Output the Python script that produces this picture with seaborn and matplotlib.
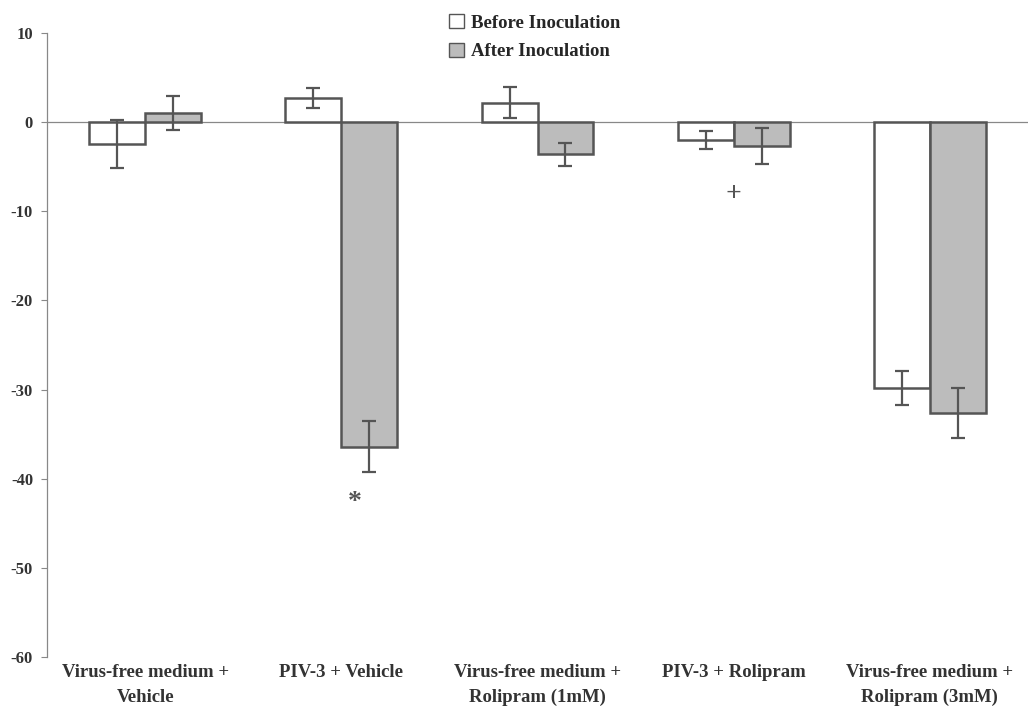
import numpy as np
import pandas as pd
import matplotlib
matplotlib.use('Agg')
import matplotlib.pyplot as plt
import seaborn as sns
from matplotlib.patches import Patch

groups = ['Virus-free medium +\nVehicle', 'PIV-3 + Vehicle', 'Virus-free medium +\nRolipram (1mM)',
          'PIV-3 + Rolipram', 'Virus-free medium +\nRolipram (3mM)']
before = [-2.5, 2.7, 2.2, -2.0, -29.8]
before_err = [2.7, 1.1, 1.7, 1.0, 1.9]
after = [1.0, -36.4, -3.6, -2.7, -32.6]
after_err = [1.9, 2.9, 1.3, 2.0, 2.8]
marks = ['', '*', '', '+', '']

df = pd.DataFrame({
    'group': groups * 2,
    'value': before + after,
    'err': before_err + after_err,
    'when': ['Before Inoculation'] * 5 + ['After Inoculation'] * 5,
})

sns.set_style('white')
plt.rcParams['font.family'] = ['Liberation Serif', 'DejaVu Serif']
plt.rcParams['font.weight'] = 'bold'
plt.rcParams['axes.unicode_minus'] = False

fig = plt.figure(figsize=(10.28, 7.14), dpi=100)
ax = fig.add_axes([47/1028, 1 - 657/714, 1 - 47/1028, (657 - 33)/714])

edge = '#555555'
sns.barplot(data=df, x='group', y='value', hue='when', palette=['white', '#bcbcbc'],
            errorbar=None, width=0.57, gap=0, edgecolor=edge, linewidth=1.8,
            legend=False, ax=ax)

# error bars from each container's bar positions
for cont, errs in zip(ax.containers, [before_err, after_err]):
    xs = [b.get_x() + b.get_width() / 2 for b in cont]
    ys = [b.get_y() + b.get_height() for b in cont]
    ax.errorbar(xs, ys, yerr=errs, fmt='none', ecolor='#555555', elinewidth=1.6,
                capsize=5, capthick=1.6)

# significance marks under the after bars
after_bars = ax.containers[1]
for b, m, e in zip(after_bars, marks, after_err):
    if m:
        y = b.get_y() + b.get_height() - e - 3.4
        ax.text(b.get_x() + b.get_width() * 0.25 if m == '*' else b.get_x(), y, m,
                ha='center', va='center', fontsize=20, color='#555555', fontweight='bold')

ax.axhline(0, color='#888888', lw=0.9, zorder=0)
ax.set_ylim(-60, 10)
ax.set_xlim(-0.5, 4.5)
ax.set_yticks(range(-60, 11, 10))
ax.tick_params(axis='y', labelsize=12, length=4, color='#888888', width=0.8, pad=6, left=True)
ax.tick_params(axis='x', labelsize=13.5, length=0, pad=5)
for lab in ax.get_xticklabels() + ax.get_yticklabels():
    lab.set_fontweight('bold')
    lab.set_color('#333333')
for lab in ax.get_xticklabels():
    lab.set_linespacing(1.6)
ax.set_xlabel('')
ax.set_ylabel('')
sns.despine(ax=ax, bottom=True)
ax.spines['left'].set_color('#888888')
ax.spines['left'].set_linewidth(0.9)

handles = [Patch(facecolor='white', edgecolor=edge, label='Before Inoculation'),
           Patch(facecolor='#bcbcbc', edgecolor=edge, label='After Inoculation')]
fig.legend(handles=handles, loc='upper left', bbox_to_anchor=(432/1028, 1 + 3/714), frameon=False,
           handlelength=0.8, handleheight=0.8, handletextpad=0.4,
           labelspacing=0.6, prop={'weight': 'bold', 'size': 13.5})

fig.savefig('out.png', dpi=100)
